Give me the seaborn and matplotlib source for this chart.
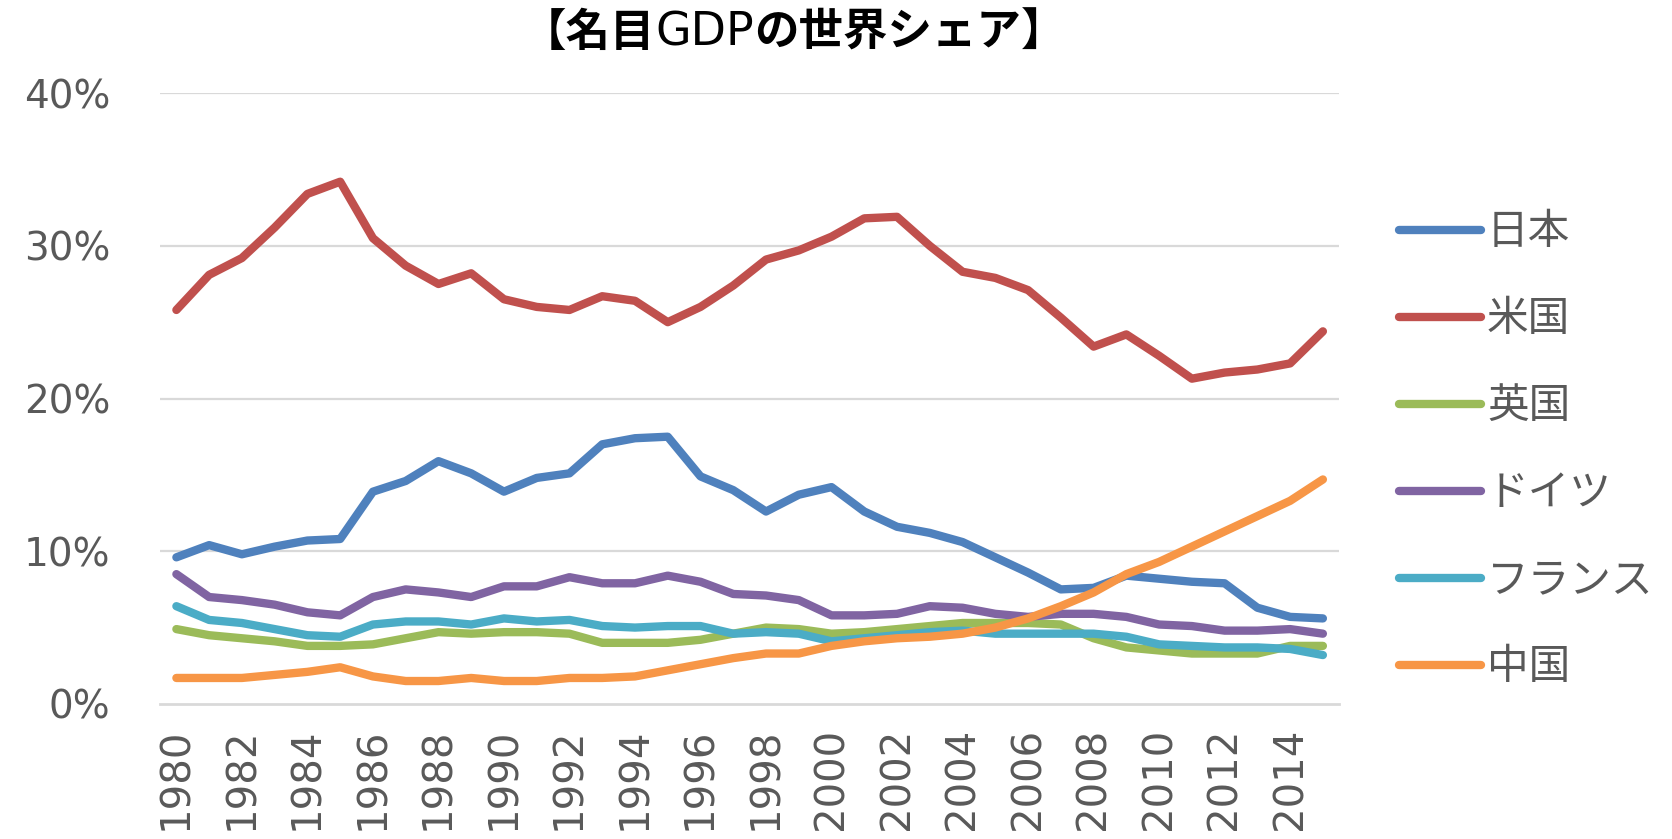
import numpy as np
import pandas as pd
import matplotlib
matplotlib.use("Agg")
import matplotlib.pyplot as plt
import seaborn as sns
from matplotlib.ticker import FixedLocator

# 名目GDPの世界シェア (%), 1980-2015
years = list(range(1980, 2016))
japan = [9.6, 10.4, 9.8, 10.3, 10.7, 10.8, 13.9, 14.6, 15.9, 15.1, 13.9, 14.8,
         15.1, 17.0, 17.4, 17.5, 14.9, 14.0, 12.6, 13.7, 14.2, 12.6, 11.6, 11.2,
         10.6, 9.6, 8.6, 7.5, 7.6, 8.4, 8.2, 8.0, 7.9, 6.3, 5.7, 5.6]
usa = [25.8, 28.1, 29.2, 31.2, 33.4, 34.2, 30.5, 28.7, 27.5, 28.2, 26.5, 26.0,
       25.8, 26.7, 26.4, 25.0, 26.0, 27.4, 29.1, 29.7, 30.6, 31.8, 31.9, 30.0,
       28.3, 27.9, 27.1, 25.3, 23.4, 24.2, 22.8, 21.3, 21.7, 21.9, 22.3, 24.4]
uk = [4.9, 4.5, 4.3, 4.1, 3.8, 3.8, 3.9, 4.3, 4.7, 4.6, 4.7, 4.7,
      4.6, 4.0, 4.0, 4.0, 4.2, 4.6, 5.0, 4.9, 4.6, 4.7, 4.9, 5.1,
      5.3, 5.3, 5.3, 5.2, 4.3, 3.7, 3.5, 3.3, 3.3, 3.3, 3.8, 3.8]
germany = [8.5, 7.0, 6.8, 6.5, 6.0, 5.8, 7.0, 7.5, 7.3, 7.0, 7.7, 7.7,
           8.3, 7.9, 7.9, 8.4, 8.0, 7.2, 7.1, 6.8, 5.8, 5.8, 5.9, 6.4,
           6.3, 5.9, 5.7, 5.9, 5.9, 5.7, 5.2, 5.1, 4.8, 4.8, 4.9, 4.6]
france = [6.4, 5.5, 5.3, 4.9, 4.5, 4.4, 5.2, 5.4, 5.4, 5.2, 5.6, 5.4,
          5.5, 5.1, 5.0, 5.1, 5.1, 4.6, 4.7, 4.6, 4.1, 4.3, 4.5, 4.7,
          4.8, 4.6, 4.6, 4.6, 4.6, 4.4, 3.9, 3.8, 3.7, 3.7, 3.6, 3.2]
china = [1.7, 1.7, 1.7, 1.9, 2.1, 2.4, 1.8, 1.5, 1.5, 1.7, 1.5, 1.5,
         1.7, 1.7, 1.8, 2.2, 2.6, 3.0, 3.3, 3.3, 3.8, 4.1, 4.3, 4.4,
         4.6, 5.0, 5.6, 6.4, 7.3, 8.5, 9.3, 10.3, 11.3, 12.3, 13.3, 14.7]

countries = ["日本", "米国", "英国", "ドイツ", "フランス", "中国"]
colors = ["#4F81BD", "#C0504D", "#9BBB59", "#8064A2", "#4BACC6", "#F79646"]
y_ticks = [0, 10, 20, 30, 40]
x_label_years = list(range(1980, 2016, 2))

df = pd.DataFrame({
    "year": years * len(countries),
    "country": np.repeat(countries, len(years)),
    "share": japan + usa + uk + germany + france + china,
})

sns.set_style("white")
plt.rcParams['font.family'] = ['DejaVu Sans', 'Noto Sans CJK JP']
grey_text = "#595959"
grid_grey = "#D9D9D9"

fig = plt.figure(figsize=(16.72, 8.39), dpi=100)
ax = fig.add_axes([0.0957, 0.161, 0.7053, 0.728])

sns.lineplot(data=df, x="year", y="share", hue="country", hue_order=countries,
             palette=dict(zip(countries, colors)), linewidth=6, ax=ax,
             sort=False, solid_joinstyle="round", solid_capstyle="round")

# axes look
ax.set_xlim(1979.5, 2015.5)
ax.set_ylim(0, 40)
ax.set_xlabel("")
ax.set_ylabel("")
for s in ["top", "right", "left"]:
    ax.spines[s].set_visible(False)
ax.spines["bottom"].set_color(grid_grey)
ax.spines["bottom"].set_linewidth(2)
ax.set_yticks(y_ticks)
ax.set_yticklabels([f"{v}%" for v in y_ticks])
for v in y_ticks[1:]:
    ax.axhline(v, color=grid_grey, linewidth=1.6, zorder=0)
ax.set_xticks(x_label_years)
ax.set_xticklabels([str(y) for y in x_label_years], rotation=90, va="top")
ax.xaxis.set_minor_locator(FixedLocator(np.arange(1979.5, 2016, 1)))
ax.tick_params(axis="x", which="major", length=0, pad=17, labelsize=29, labelcolor=grey_text)
ax.tick_params(axis="x", which="minor", length=11, width=1.5, color=grid_grey, direction="out")
ax.tick_params(axis="y", length=0, pad=36, labelsize=28, labelcolor=grey_text)

# legend on the right
handles, labels = ax.get_legend_handles_labels()
ax.get_legend().remove()
leg = fig.legend(handles, labels, loc="center left", bbox_to_anchor=(0.837, 0.464),
                 frameon=False, fontsize=30, handlelength=1.95, handletextpad=0.15,
                 labelspacing=1.08, borderpad=0, borderaxespad=0)
for h in leg.get_lines():
    h.set_linewidth(6)
for t in leg.get_texts():
    t.set_color(grey_text)

# title: CJK parts bold, "GDP" regular
cjk = ['Noto Sans CJK JP', 'DejaVu Sans']
t1 = fig.text(0.32, 0.962, "【名目", ha="left", va="center", fontsize=32,
              fontweight="bold", family=cjk, color="black")
t2 = fig.text(0, 0, "GDP", fontsize=33, family=['DejaVu Sans'], color="black",
              ha="left", va="baseline")
t3 = fig.text(0, 0, "の世界シェア】", fontsize=32, fontweight="bold", family=cjk,
              color="black", ha="left", va="baseline")
fig.canvas.draw()
r = fig.canvas.get_renderer()
inv = fig.transFigure.inverted()
b1 = t1.get_window_extent(r)
# baseline of t1: re-place t1 with baseline alignment at same visual spot
base_y = inv.transform((0, b1.y0 + 0.2 * b1.height))[1]
t1.set_va("baseline")
t1.set_y(base_y)
fig.canvas.draw()
b1 = t1.get_window_extent(r)
t2.set_position((inv.transform((b1.x1, 0))[0], base_y))
fig.canvas.draw()
b2 = t2.get_window_extent(r)
t3.set_position((inv.transform((b2.x1, 0))[0], base_y))
fig.canvas.draw()
b3 = t3.get_window_extent(r)
# centre the three pieces at the reference title centre
shift = 0.4745 - inv.transform(((b1.x0 + b3.x1) / 2, 0))[0]
for t in (t1, t2, t3):
    x, y = t.get_position()
    t.set_position((x + shift, y))

fig.savefig("out.png", dpi=100)
